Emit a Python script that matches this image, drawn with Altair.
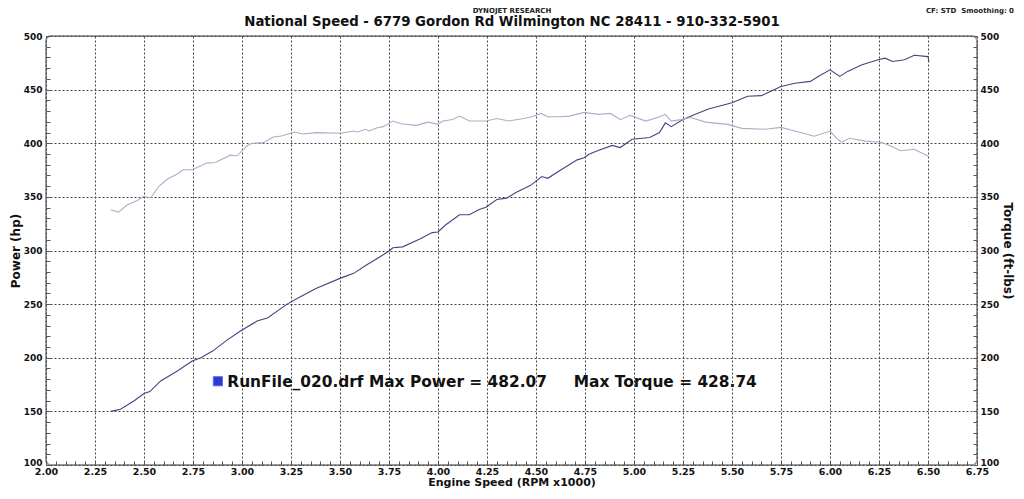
import altair as alt
import pandas as pd

# ---------------- data ----------------
power_rpm = [2.33, 2.38, 2.45, 2.50, 2.53, 2.585, 2.67, 2.746, 2.79, 2.85, 2.92, 2.99, 3.08, 3.13,
             3.23, 3.30, 3.38, 3.50, 3.57, 3.635, 3.69, 3.745, 3.77, 3.82, 3.91, 3.97, 4.00, 4.04,
             4.11, 4.16, 4.21, 4.245, 4.30, 4.35, 4.40, 4.47, 4.53, 4.56, 4.62, 4.71, 4.745, 4.77,
             4.82, 4.89, 4.93, 4.99, 5.08, 5.13, 5.16, 5.19, 5.25, 5.31, 5.38, 5.50, 5.58, 5.65,
             5.75, 5.82, 5.90, 5.94, 6.00, 6.05, 6.09, 6.16, 6.245, 6.28, 6.32, 6.38, 6.43, 6.50, 6.505]
power_hp = [150, 152, 159.9, 166.7, 168.5, 178.4, 187.7, 197, 200, 206.2, 216, 224.7, 234.5, 237,
            250, 257.1, 264.8, 274, 278.7, 286.4, 292.6, 298.8, 302.5, 303.4, 311, 316.7, 317.3, 324,
            333.3, 333.3, 338.2, 340.4, 347.5, 348.8, 354.3, 360.5, 369, 367.3, 374.4, 384.5, 386.5, 389.8,
            393.5, 398, 396, 403.7, 405.3, 410, 419, 415.5, 422.2, 426.9, 432, 437.7, 443.8, 444.4,
            453, 456, 457.7, 462.3, 468.5, 462.3, 467, 473, 477.8, 479.3, 476.2, 477.8, 482.07, 480.8, 476]

torque_rpm = [2.33, 2.37, 2.415, 2.466, 2.50, 2.534, 2.576, 2.62, 2.67, 2.70, 2.746, 2.82, 2.864, 2.94,
              2.975, 3.025, 3.05, 3.11, 3.16, 3.20, 3.27, 3.31, 3.38, 3.50, 3.54, 3.57, 3.59, 3.63,
              3.65, 3.69, 3.72, 3.77, 3.81, 3.89, 3.95, 4.00, 4.025, 4.075, 4.11, 4.16, 4.245, 4.30,
              4.36, 4.43, 4.48, 4.525, 4.56, 4.62, 4.67, 4.745, 4.82, 4.88, 4.93, 4.98, 5.06, 5.12,
              5.16, 5.19, 5.24, 5.29, 5.365, 5.48, 5.55, 5.67, 5.75, 5.85, 5.92, 6.00, 6.04, 6.06,
              6.10, 6.18, 6.26, 6.31, 6.36, 6.43, 6.50]
torque_ftlb = [338, 335.8, 342.6, 346.6, 350.6, 349, 359.9, 366.7, 371.3, 375.3, 375.3, 381.5, 382.1, 388.9,
               388.3, 397.5, 400, 400.6, 405.8, 406.8, 410.5, 408.6, 409.9, 409.3, 410.5, 411.4, 410.5, 413,
               411.4, 414.5, 415.5, 420.7, 418.2, 416.7, 419.7, 417.6, 420.7, 422.2, 425.3, 420.7, 420.7, 423.1,
               420.7, 422.9, 424.7, 427.8, 424.7, 424.7, 425.3, 428.74, 426.9, 427.8, 422, 426, 420.7, 424,
               427, 420.7, 422, 424, 419.7, 417.6, 413.9, 413, 414.8, 410, 406.5, 411.4, 403.7, 401,
               404.6, 402, 401, 397.5, 393, 394.4, 388.2]

x_ticks = [round(2.0 + 0.05 * i, 2) for i in range(96)]
y_ticks = list(range(100, 501, 10))

title_text = "National Speed - 6779 Gordon Rd Wilmington NC 28411 - 910-332-5901"
header_text = "DYNOJET RESEARCH"
corner_text = "CF: STD\u00a0\u00a0Smoothing: 0"
legend_text = "RunFile_020.drf Max Power = 482.07" + "\u00a0" * 5 + "Max Torque = 428.74"
legend_pos = {"rpm": [2.877], "v": [178.1]}
legend_text_pos = {"rpm": [2.925], "v": [177.2]}

FONT = "DejaVu Sans"
W, H = 931, 429

power_df = pd.DataFrame({"rpm": power_rpm, "hp": power_hp})
torque_df = pd.DataFrame({"rpm": torque_rpm, "tq": torque_ftlb})

xscale = alt.Scale(domain=[2.0, 6.75], nice=False, zero=False)
yscale = alt.Scale(domain=[100, 500], nice=False, zero=False)

quarter = "abs(datum.value*4 - round(datum.value*4)) < 0.001"
fifty = "datum.value % 50 === 0"
bottom_label_shift = {"condition": {"test": "datum.value === 100", "value": -3}, "value": 0}

x_axis = alt.Axis(
    values=x_ticks, title="Engine Speed (RPM x1000)",
    labelExpr=f"{quarter} ? format(datum.value, '.2f') : ''",
    labelOverlap=False, labelFlush=False, labelBound=False,
    labelFont=FONT, labelFontWeight="bold", labelFontSize=9.5, labelColor="#111",
    labelPadding=1,
    titleFont=FONT, titleFontWeight="bold", titleFontSize=11, titleColor="#111", titlePadding=1,
    domain=False, offset=-4, tickSize=4, tickColor="#555", tickWidth=1,
    grid=True, gridColor="#444", gridDash=[2, 2], gridWidth=1,
    gridOpacity={"condition": {"test": quarter, "value": 1}, "value": 0},
)
X = alt.X("rpm:Q", scale=xscale, axis=x_axis)

left_axis = alt.Axis(
    values=y_ticks, title="Power (hp)", orient="left",
    labelExpr=f"{fifty} ? datum.label : ''", labelOverlap=False, labelFlush=False, labelBound=False,
    labelFont=FONT, labelFontWeight="bold", labelFontSize=9, labelColor="#111", labelPadding=4,
    labelOffset=bottom_label_shift,
    titleFont=FONT, titleFontWeight="bold", titleFontSize=12, titleColor="#111", titlePadding=1,
    domain=False, offset=-4, tickSize=4, tickColor="#555", tickWidth=1,
    grid=True, gridColor="#444", gridDash=[2, 2], gridWidth=1,
    gridOpacity={"condition": {"test": fifty, "value": 1}, "value": 0},
)
right_axis = alt.Axis(
    values=y_ticks, title="Torque (ft-lbs)", orient="right",
    labelExpr=f"{fifty} ? datum.label : ''", labelOverlap=False, labelFlush=False, labelBound=False,
    labelFont=FONT, labelFontWeight="bold", labelFontSize=9, labelColor="#111", labelPadding=3,
    labelOffset=bottom_label_shift,
    titleFont=FONT, titleFontWeight="bold", titleFontSize=12, titleColor="#111", titlePadding=2,
    domain=False, offset=-4, tickSize=4, tickColor="#555", tickWidth=1, grid=False,
)

power_line = alt.Chart(power_df).mark_line(color="#44447f", strokeWidth=1.1).encode(
    x=X, y=alt.Y("hp:Q", scale=yscale, axis=left_axis))
torque_line = alt.Chart(torque_df).mark_line(color="#adadc8", strokeWidth=1.1).encode(
    x=X, y=alt.Y("tq:Q", scale=yscale, axis=right_axis))

legend_sq = alt.Chart(pd.DataFrame(legend_pos)).mark_square(
    size=85, color="#2a3ad8", opacity=1, stroke="#6070f0", strokeWidth=1).encode(
    x=X, y=alt.Y("v:Q", scale=yscale, axis=None))
legend_txt = alt.Chart(pd.DataFrame({**legend_text_pos, "t": [legend_text]})).mark_text(
    align="left", baseline="middle", font=FONT, fontWeight="bold", fontSize=15.4, color="#111").encode(
    x=X, y=alt.Y("v:Q", scale=yscale, axis=None), text="t:N")

title_mark = alt.Chart(pd.DataFrame({"t": [title_text]})).mark_text(
    align="center", baseline="middle", font=FONT, fontWeight="bold", fontSize=13.3, color="#111").encode(
    x=alt.value(466), y=alt.value(-14), text="t:N")
header_mark = alt.Chart(pd.DataFrame({"t": [header_text]})).mark_text(
    align="center", baseline="middle", font=FONT, fontWeight="bold", fontSize=7, color="#222").encode(
    x=alt.value(466), y=alt.value(-25), text="t:N")
corner_mark = alt.Chart(pd.DataFrame({"t": [corner_text]})).mark_text(
    align="right", baseline="middle", font=FONT, fontWeight="bold", fontSize=7, color="#222").encode(
    x=alt.value(968), y=alt.value(-25), text="t:N")

chart = alt.layer(
    power_line, torque_line, legend_sq, legend_txt, title_mark, header_mark, corner_mark
).resolve_scale(y="independent").properties(
    width=W, height=H,
    padding={"left": 38, "top": 28, "right": 39, "bottom": 26},
    autosize=alt.AutoSizeParams(type="none"),
    background="white",
).configure_view(
    stroke="#999", strokeWidth=2, cornerRadius=5
)

chart.save("out.html", embed_options={"renderer": "svg", "actions": False})
